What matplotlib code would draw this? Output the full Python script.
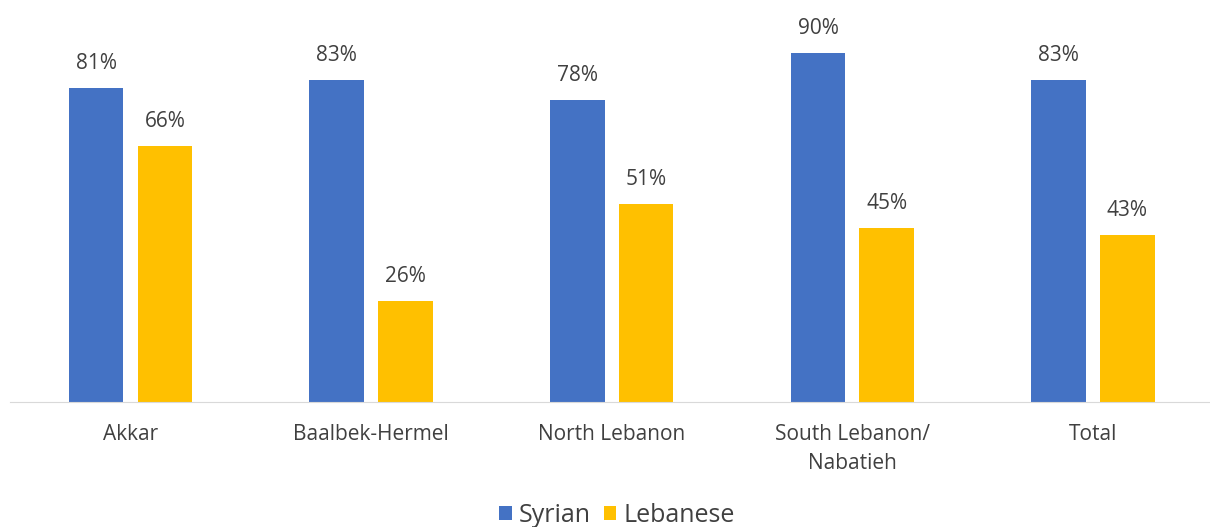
import matplotlib.pyplot as plt
import numpy as np

# 数据
categories = ['Akkar', 'Baalbek-Hermel', 'North Lebanon', 'South Lebanon/\nNabatieh', 'Total']
syrian = [81, 83, 78, 90, 83]
lebanese = [66, 26, 51, 45, 43]

plt.rcParams['font.family'] = ['Open Sans', 'DejaVu Sans']
text_color = '#404040'

fig = plt.figure(figsize=(12.1, 5.27), dpi=100)
ax = fig.add_axes([0.0085, 0.237, 0.9942, 0.7357])

x = np.arange(len(categories))
w = 0.227
off = 0.143
b1 = ax.bar(x - off, syrian, w, color='#4472C4', label='Syrian')
b2 = ax.bar(x + off, lebanese, w, color='#FFC000', label='Lebanese')

# 数据标签
for bars, vals in [(b1, syrian), (b2, lebanese)]:
    for rect, v in zip(bars, vals):
        ax.annotate(f'{v}%', (rect.get_x() + rect.get_width() / 2, v),
                    xytext=(0, 10), textcoords='offset points',
                    ha='center', va='bottom', fontsize=15, color=text_color)

ax.set_xlim(-0.5, 4.5)
ax.set_ylim(0, 100)
ax.set_xticks(x)
ax.set_xticklabels(categories, fontsize=15, color=text_color, linespacing=1.45)
ax.tick_params(axis='x', length=0, pad=16)
ax.set_yticks([])
for s in ['top', 'right', 'left']:
    ax.spines[s].set_visible(False)
ax.spines['bottom'].set_color('#D9D9D9')

fig.legend(loc='lower center', bbox_to_anchor=(0.51, -0.045), ncol=2, frameon=False,
           fontsize=18, handlelength=0.5, handleheight=0.5, handletextpad=0.3,
           columnspacing=0.5, labelcolor=text_color)

fig.savefig('out.png', dpi=100)
